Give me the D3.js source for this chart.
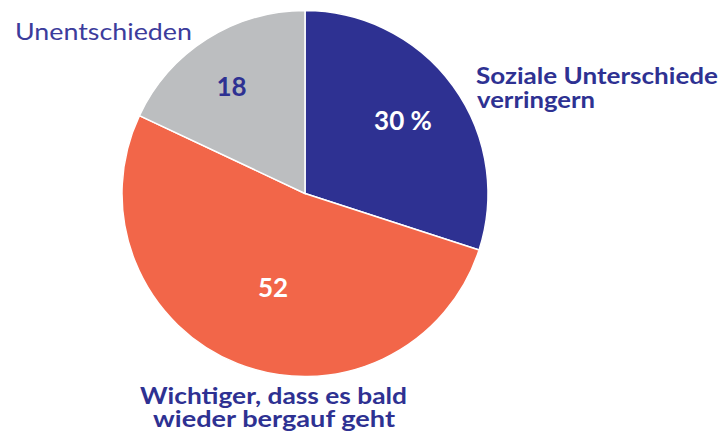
<!DOCTYPE html>
<html><head><meta charset="utf-8">
<script src="https://cdn.jsdelivr.net/npm/d3@7"></script>
<style>body{margin:0;background:#fff}svg{display:block}</style>
</head><body>
<svg id="c" width="723" height="436"></svg>
<script>
const categories = ["Soziale Unterschiede verringern", "Wichtiger, dass es bald wieder bergauf geht", "Unentschieden"];
const values = [30, 52, 18];
const valueLabels = ["30 %", "52", "18"];
const colors = ["#2e3192", "#f26649", "#bcbec0"];

const svg = d3.select("#c");
const cx = 305, cy = 193.5, r = 183;
const g = svg.append("g").attr("transform", `translate(${cx},${cy})`);
const pie = d3.pie().sort(null).value(d => d)(values);
const arc = d3.arc().innerRadius(0).outerRadius(r);
g.selectAll("path").data(pie).enter().append("path")
  .attr("d", arc).attr("fill", (d,i) => colors[i])
  .attr("stroke", "#fff").attr("stroke-width", 1.5);

const font = "'Lato', 'DejaVu Sans', sans-serif";
const inner = [
  {i:0, x:403, y:129.5, fill:"#fff"},
  {i:1, x:273, y:297, fill:"#fff"},
  {i:2, x:231.5, y:96, fill:"#2e3192"}
];
inner.forEach(o => {
  svg.append("text").attr("x", o.x).attr("y", o.y).attr("text-anchor","middle")
    .attr("font-family", font).attr("font-weight", "bold").attr("font-size", 26)
    .attr("fill", o.fill).text(valueLabels[o.i]);
});

// lines: [text, x(start), baseline, width]
function label(lines, weight, fill, size) {
  lines.forEach(([s, x, y, w]) => {
    svg.append("text").attr("x", x).attr("y", y)
      .attr("font-family", font).attr("font-weight", weight).attr("font-size", size)
      .attr("fill", fill).attr("textLength", w).attr("lengthAdjust", "spacingAndGlyphs").text(s);
  });
}
label([["Soziale Unterschiede", 476, 83.5, 242], ["verringern", 477, 107.5, 118]], "bold", "#2e3192", 23);
label([["Wichtiger, dass es bald", 140, 404, 267], ["wieder bergauf geht", 153, 427, 242]], "bold", "#2e3192", 23);
label([["Unentschieden", 15, 40, 177]], "normal", "#3c3c9c", 23);
</script>
</body></html>
